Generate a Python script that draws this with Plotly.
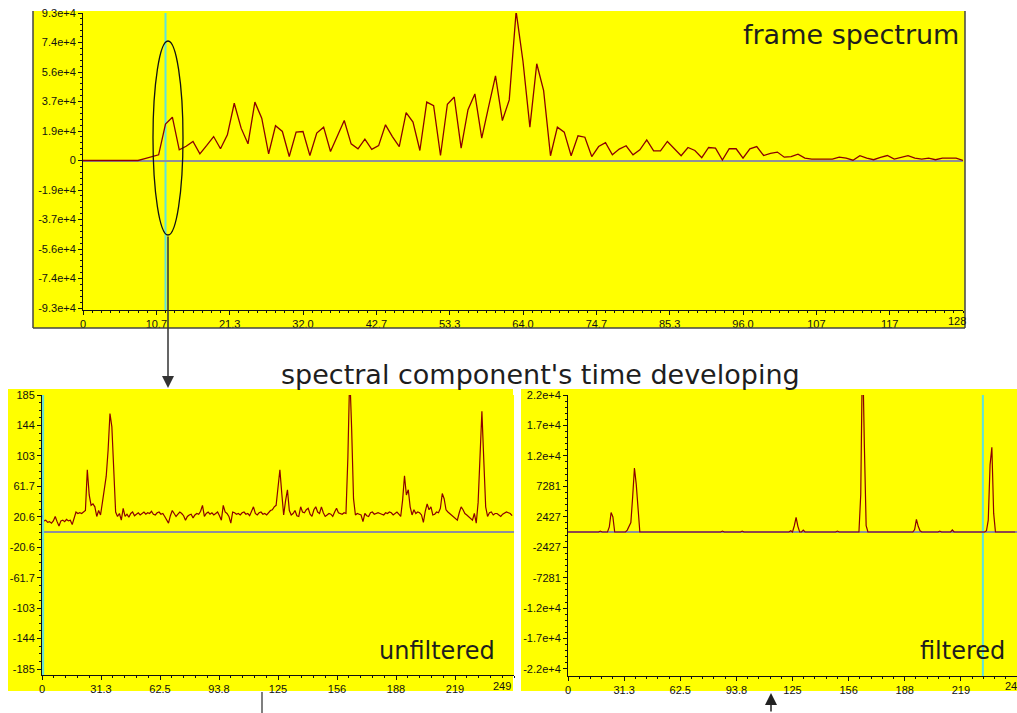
import plotly.graph_objects as go

W, H = 1017, 713


def px(x):
    return x / W


def py(y):
    return 1 - y / H


# ---------------- data ----------------
frame_spectrum = [
    0, 0, 0, 0, 0, 0, 0, 0, 0, 1200,
    2500, 3600, 23000, 27300, 6700, 9000, 12000, 4200, 9500, 15100,
    7400, 16200, 36100, 20400, 10500, 36800, 26700, 4200, 21900, 18300,
    2500, 17900, 18300, 3150, 17300, 21000, 5700, 15000, 25200, 10500,
    7400, 13500, 7000, 9400, 22500, 15100, 8800, 30200, 24200, 6300,
    36800, 34500, 3150, 35500, 40000, 7800, 32000, 42000, 14100, 34000,
    53400, 25200, 38200, 94000, 62400, 21000, 61000, 44100, 3000, 21000,
    17900, 3000, 15600, 14700, 2500, 8800, 11300, 3600, 7200, 9300,
    3600, 6700, 13000, 6100, 6100, 12000, 7800, 3000, 8200, 6300,
    1800, 8200, 7800, 300, 7400, 7400, 1500, 7400, 8800, 3150,
    4500, 5300, 2100, 2500, 4000, 1500, 900, 900, 900, 900,
    2100, 1500, 200, 3000, 1500, 500, 2000, 3150, 900, 2000,
    3000, 1500, 900, 1500, 500, 1500, 1500, 1500, 0,
]

unfiltered = [
    23, 15, 16, 13, 14, 12, 15, 21, 14, 8,
    15, 16, 14, 17, 15, 16, 10, 20, 27, 25,
    26, 25, 27, 29, 84, 50, 36, 38, 34, 21,
    29, 23, 40, 57, 75, 110, 160, 142, 93, 27,
    21, 25, 16, 32, 21, 24, 20, 25, 27, 22,
    24, 26, 23, 25, 27, 24, 26, 25, 28, 24,
    23, 26, 27, 24, 25, 21, 17, 12, 22, 29,
    25, 21, 24, 27, 25, 22, 16, 21, 23, 24,
    19, 23, 25, 24, 28, 36, 21, 25, 27, 24,
    26, 23, 25, 27, 22, 16, 36, 27, 25, 21,
    12, 27, 26, 24, 25, 23, 26, 27, 24, 25,
    22, 27, 34, 25, 23, 26, 27, 24, 25, 23,
    26, 29, 30, 34, 36, 57, 84, 52, 23, 42,
    57, 29, 23, 25, 29, 22, 21, 34, 27, 26,
    30, 32, 24, 21, 30, 34, 27, 25, 34, 26,
    21, 23, 25, 24, 21, 27, 32, 26, 25, 24,
    26, 25, 100, 215, 140, 45, 23, 25, 24, 23,
    14, 25, 22, 21, 26, 27, 24, 25, 26, 25,
    24, 23, 26, 25, 27, 26, 23, 25, 27, 24,
    21, 43, 76, 50, 57, 34, 23, 30, 25, 27,
    26, 23, 13, 28, 38, 30, 34, 23, 24, 27,
    26, 32, 52, 45, 30, 27, 25, 23, 21, 18,
    16, 26, 34, 30, 25, 23, 21, 19, 16, 25,
    12, 40, 101, 163, 97, 34, 21, 26, 27, 23,
    25, 25, 23, 21, 24, 25, 27, 26, 25, 22,
]

filtered = [
    0, 0, 0, 0, 0, 0, 0, 0, 0, 0,
    0, 0, 0, 0, 0, 0, 0, 0, 150, 0,
    0, 0, 0, 800, 3100, 2400, 0, 0, 0, 0,
    0, 0, 0, 300, 1000, 1500, 5600, 10200, 7600, 3000,
    0, 0, 0, 0, 0, 0, 0, 0, 0, 0,
    0, 0, 0, 0, 0, 0, 0, 0, 0, 0,
    0, 0, 0, 0, 0, 0, 0, 0, 0, 0,
    0, 0, 0, 0, 0, 0, 0, 0, 0, 0,
    0, 0, 0, 0, 0, 0, 150, 0, 0, 0,
    0, 0, 0, 0, 0, 0, 0, 150, 0, 0,
    0, 0, 0, 0, 0, 0, 0, 0, 0, 0,
    0, 0, 0, 0, 0, 0, 0, 0, 0, 0,
    0, 0, 0, 0, 200, 0, 1000, 2340, 900, 0,
    0, 300, 0, 0, 0, 0, 0, 0, 0, 0,
    0, 0, 0, 0, 0, 0, 0, 0, 0, 0,
    150, 0, 0, 0, 0, 0, 0, 0, 0, 0,
    0, 0, 0, 6000, 30000, 14000, 1000, 0, 0, 0,
    0, 0, 0, 0, 0, 0, 0, 0, 0, 0,
    0, 0, 0, 0, 0, 0, 0, 0, 0, 0,
    0, 0, 0, 400, 2000, 900, 200, 0, 0, 0,
    0, 0, 0, 0, 0, 0, 0, 150, 0, 0,
    0, 0, 0, 0, 320, 0, 0, 0, 0, 0,
    0, 0, 0, 0, 0, 0, 0, 0, 0, 0,
    0, 0, 0, 200, 1900, 10700, 13500, 3000, 0, 0,
    0, 0, 0, 0, 0, 0, 0, 0, 0, 0,
]

spec_bins = list(range(len(frame_spectrum)))
time_steps = list(range(len(unfiltered)))

top_xtext = ["0", "10.7", "21.3", "32.0", "42.7", "53.3", "64.0", "74.7",
             "85.3", "96.0", "107", "117", ""]
top_ytext = ["-9.3e+4", "-7.4e+4", "-5.6e+4", "-3.7e+4", "-1.9e+4", "0",
             "1.9e+4", "3.7e+4", "5.6e+4", "7.4e+4", "9.3e+4"]
bot_xtext = ["0", "31.3", "62.5", "93.8", "125", "156", "188", "219", ""]
left_ytext = ["-185", "-144", "-103", "-61.7", "-20.6", "20.6", "61.7", "103",
              "144", "185"]
right_ytext = ["-2.2e+4", "-1.7e+4", "-1.2e+4", "-7281", "-2427", "2427",
               "7281", "1.2e+4", "1.7e+4", "2.2e+4"]

# tick positions derived from the axis extents
TOP_XMAX, TOP_YMAX = 128, 93000
BOT_XMAX, LEFT_YMAX, RIGHT_YMAX = 250, 185, 21843

top_xticks = [TOP_XMAX * k / 12 for k in range(13)]
top_yticks = [TOP_YMAX * (k - 5) / 5 for k in range(11)]
bot_xticks = [BOT_XMAX * k / 8 for k in range(9)]
left_yticks = [LEFT_YMAX * (2 * k - 9) / 9 for k in range(10)]
right_yticks = [RIGHT_YMAX * (2 * k - 9) / 9 for k in range(10)]

top_xminor = [TOP_XMAX * k / 96 for k in range(97)]
top_yminor = [TOP_YMAX * (k - 25) / 25 for k in range(51)]
bot_xminor = [BOT_XMAX * k / 40 for k in range(41)]
left_yminor = [LEFT_YMAX * (k - 18) / 18 for k in range(37)]
right_yminor = [RIGHT_YMAX * (k - 22.5) / 22.5 for k in range(46)]

LINE = "#8b0000"
CYAN = "#5fe3dc"
YEL = "#ffff00"
ZERO = "#8f8f9c"
TICKFONT = dict(family="Liberation Sans, Arial, sans-serif", size=11, color="#111")
BIGFONT = "DejaVu Sans, sans-serif"

fig = go.Figure()
fig.add_trace(go.Scatter(x=spec_bins, y=frame_spectrum, mode="lines",
                         line=dict(color=LINE, width=1.3), xaxis="x", yaxis="y",
                         hoverinfo="skip"))
fig.add_trace(go.Scatter(x=time_steps, y=unfiltered, mode="lines",
                         line=dict(color=LINE, width=1.2), xaxis="x2", yaxis="y2",
                         hoverinfo="skip"))
fig.add_trace(go.Scatter(x=time_steps, y=filtered, mode="lines",
                         line=dict(color=LINE, width=1.2), xaxis="x3", yaxis="y3",
                         hoverinfo="skip"))


def axis(domain, rng, anchor, tickvals, ticktext, minor_vals, zero=False):
    d = dict(domain=domain, range=rng, anchor=anchor, showgrid=False,
             zeroline=zero, zerolinecolor=ZERO, zerolinewidth=1.5,
             showline=True, linecolor="#111", linewidth=1,
             ticks="outside", ticklen=4, tickwidth=1, tickcolor="#111",
             tickmode="array", tickvals=tickvals, ticktext=ticktext,
             tickfont=TICKFONT, fixedrange=True, automargin=False,
             minor=dict(tickmode="array", tickvals=minor_vals, ticks="outside",
                        ticklen=2, tickwidth=1, tickcolor="#111", showgrid=False))
    return d


layout = dict(
    width=W, height=H,
    margin=dict(l=0, r=0, t=0, b=0, pad=0, autoexpand=False),
    paper_bgcolor="white", plot_bgcolor=YEL, showlegend=False,
    xaxis=axis([px(83), px(963)], [0, TOP_XMAX], "y", top_xticks, top_xtext, top_xminor),
    yaxis=axis([py(310), py(13)], [-94260, TOP_YMAX], "x", top_yticks, top_ytext,
               top_yminor, zero=True),
    xaxis2=axis([px(42), px(514)], [0, BOT_XMAX], "y2", bot_xticks, bot_xtext, bot_xminor),
    yaxis2=axis([py(675), py(395)], [-193.1, LEFT_YMAX], "x2", left_yticks, left_ytext,
                left_yminor, zero=True),
    xaxis3=axis([px(568), 1.0], [0, BOT_XMAX], "y3", bot_xticks, bot_xtext, bot_xminor),
    yaxis3=axis([py(676), py(395)], [-22960, RIGHT_YMAX], "x3", right_yticks, right_ytext,
                right_yminor, zero=True),
)

shapes = [
    # panels
    dict(type="rect", xref="paper", yref="paper", x0=px(33), x1=px(965),
         y0=py(328), y1=py(11), fillcolor=YEL, line=dict(width=0), layer="below"),
    dict(type="rect", xref="paper", yref="paper", x0=px(8), x1=px(513),
         y0=py(691), y1=py(389), fillcolor=YEL, line=dict(width=0), layer="below"),
    dict(type="rect", xref="paper", yref="paper", x0=px(521), x1=1.0,
         y0=py(691), y1=py(389), fillcolor=YEL, line=dict(width=0), layer="below"),
    # top panel border
    dict(type="line", xref="paper", yref="paper", x0=px(33), x1=px(33),
         y0=py(328), y1=py(11), line=dict(color="#444", width=1.5)),
    dict(type="line", xref="paper", yref="paper", x0=px(33), x1=px(965),
         y0=py(328), y1=py(328), line=dict(color="#444", width=1.5)),
    dict(type="line", xref="paper", yref="paper", x0=px(965), x1=px(965),
         y0=py(328), y1=py(11), line=dict(color="#444", width=1.5)),
    # cursors
    dict(type="line", xref="x", yref="y domain", x0=12, x1=12, y0=0, y1=1,
         line=dict(color=CYAN, width=2), layer="below"),
    dict(type="line", xref="x2", yref="y2 domain", x0=0.6, x1=0.6, y0=0, y1=1,
         line=dict(color=CYAN, width=2)),
    dict(type="line", xref="x3", yref="y3 domain", x0=231, x1=231, y0=0, y1=1,
         line=dict(color=CYAN, width=2), layer="below"),
    # ellipse marking the selected component
    dict(type="circle", xref="paper", yref="paper", x0=px(153), x1=px(183),
         y0=py(235), y1=py(41), line=dict(color="#111", width=1.3)),
    # connector leaving the bottom-left panel
    dict(type="line", xref="paper", yref="paper", x0=px(262), x1=px(262),
         y0=py(692), y1=0, line=dict(color="#555", width=1.5)),
]
layout["shapes"] = shapes

annotations = [
    dict(text="frame spectrum", xref="paper", yref="paper", x=px(961), y=py(35),
         xanchor="right", yanchor="middle", showarrow=False,
         font=dict(family=BIGFONT, size=27, color="#1e1e1e")),
    dict(text="spectral component's time developing", xref="paper", yref="paper",
         x=px(540), y=py(374), xanchor="center", yanchor="middle", showarrow=False,
         font=dict(family=BIGFONT, size=27, color="#1e1e1e")),
    dict(text="unfiltered", xref="paper", yref="paper", x=px(497), y=py(651),
         xanchor="right", yanchor="middle", showarrow=False,
         font=dict(family=BIGFONT, size=24, color="#1e1e1e")),
    dict(text="filtered", xref="paper", yref="paper", x=px(1007), y=py(651),
         xanchor="right", yanchor="middle", showarrow=False,
         font=dict(family=BIGFONT, size=24, color="#1e1e1e")),
    # end-of-axis tick labels, pulled inside their panels
    dict(text="128", xref="paper", yref="paper", x=px(957), y=py(321),
         xanchor="center", yanchor="middle", showarrow=False, font=TICKFONT),
    dict(text="249", xref="paper", yref="paper", x=px(513), y=py(686),
         xanchor="right", yanchor="middle", showarrow=False, font=TICKFONT),
    dict(text="249", xref="paper", yref="paper", x=px(1003), y=py(686),
         xanchor="left", yanchor="middle", showarrow=False, font=TICKFONT),
    # arrows
    dict(text="", xref="paper", yref="paper", x=px(168), y=py(388),
         ax=0, ay=-153, axref="pixel", ayref="pixel", showarrow=True,
         arrowhead=2, arrowsize=1.6, arrowwidth=1.5, arrowcolor="#333"),
    dict(text="", xref="paper", yref="paper", x=px(771), y=py(693),
         ax=0, ay=40, axref="pixel", ayref="pixel", showarrow=True,
         arrowhead=2, arrowsize=1.6, arrowwidth=1.5, arrowcolor="#222"),
]
layout["annotations"] = annotations

fig.update_layout(**layout)
fig.write_html(
    "out.html",
    post_script="document.body.style.margin='0';document.body.style.overflow='hidden';",
)
